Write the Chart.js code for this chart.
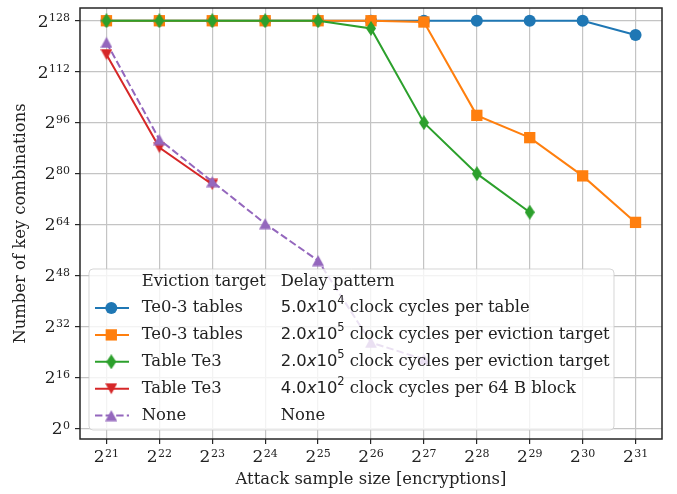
<!DOCTYPE html>
<html>
<head>
<meta charset="utf-8">
<script src="https://cdn.jsdelivr.net/npm/chart.js@4.4.0/dist/chart.umd.min.js"></script>
<style>
  html, body { margin: 0; padding: 0; background: #fff; }
  #wrap { width: 677px; height: 494px; }
</style>
</head>
<body>
<div id="wrap"><canvas id="chart" width="677" height="494"></canvas></div>
<script>
// x: attack sample size as powers of two, y: log2 of remaining key combinations
const sampleExp = [21, 22, 23, 24, 25, 26, 27, 28, 29, 30, 31];
const keyExpTicks = [0, 16, 32, 48, 64, 80, 96, 112, 128];

const te03PerTable = [128, 128, 128, 128, 128, 128, 128, 128, 128, 128, 123.5];
const te03PerTarget = [128, 128, 128, 128, 128, 128, 127.6, 98.3, 91.3, 79.3, 64.7];
const te3PerTarget = [128, 128, 128, 128, 128, 125.6, 96, 80, 67.9];
const te3PerBlock = [117.4, 88.2, 76.6];
const noDelay = [121.2, 90.7, 77.5, 64.3, 52.7, 27, 21.7];

const evictionTargets = ['Te0-3 tables', 'Te0-3 tables', 'Table Te3', 'Table Te3', 'None'];
const delayPatterns = [
    '5.0x10^4 clock cycles per table',
    '2.0x10^5 clock cycles per eviction target',
    '2.0x10^5 clock cycles per eviction target',
    '4.0x10^2 clock cycles per 64 B block',
    'None'
];
const colors = ['#1f77b4', '#ff7f0e', '#2ca02c', '#d62728', '#9467bd'];

const TEXT = '#222';
const SERIF = '"DejaVu Serif"';
const SANS = '"DejaVu Sans"';

// matplotlib-like markers as small canvases
function marker(color, w, h, pts) {
    const c = document.createElement('canvas');
    c.width = w; c.height = h;
    const g = c.getContext('2d');
    g.fillStyle = color;
    g.beginPath();
    pts.forEach((p, i) => i ? g.lineTo(p[0], p[1]) : g.moveTo(p[0], p[1]));
    g.closePath();
    g.fill();
    return c;
}
const thinDiamond = marker(colors[2], 10, 15, [[5, 0], [10, 7.5], [5, 15], [0, 7.5]]);
const triDown = marker(colors[3], 12, 12, [[0, 0.5], [12, 0.5], [6, 11.5]]);
const triUp = marker(colors[4], 12, 12, [[6, 0.5], [12, 11.5], [0, 11.5]]);

const toXY = ys => ys.map((y, i) => ({ x: sampleExp[i], y: y }));

const series = [
    { data: te03PerTable, style: 'circle', radius: 6 },
    { data: te03PerTarget, style: 'rect', radius: 8 },
    { data: te3PerTarget, style: thinDiamond, radius: 7 },
    { data: te3PerBlock, style: triDown, radius: 6 },
    { data: noDelay, style: triUp, radius: 6, dash: [7.4, 3.2] }
];

const datasets = series.map((s, i) => ({
    label: evictionTargets[i],
    data: toXY(s.data),
    borderColor: colors[i],
    backgroundColor: colors[i],
    borderWidth: 2,
    borderDash: s.dash || [],
    pointStyle: s.style,
    pointRadius: s.radius,
    pointBorderWidth: 0,
    pointBackgroundColor: colors[i],
    order: series.length - i,
    tension: 0
}));

// "2" with a raised exponent, right/center aligned at x, baseline at y
function drawPow(ctx, exp, x, y, align) {
    ctx.textBaseline = 'alphabetic';
    ctx.textAlign = 'left';
    ctx.font = '17px ' + SERIF;
    const wb = ctx.measureText('2').width;
    ctx.font = '11px ' + SERIF;
    const we = ctx.measureText(String(exp)).width;
    const x0 = align === 'right' ? x - wb - we - 0.5 : x - (wb + we + 0.5) / 2;
    ctx.font = '17px ' + SERIF;
    ctx.fillText('2', x0, y);
    ctx.font = '11px ' + SERIF;
    ctx.fillText(String(exp), x0 + wb + 0.5, y - 5.2);
}

function drawDelay(ctx, text, x, y) {
    const m = text.match(/^([\d.]+)x10\^(\d+)(.*)$/);
    ctx.textBaseline = 'middle';
    ctx.textAlign = 'left';
    if (!m) {
        ctx.font = '16.4px ' + SERIF;
        ctx.fillText(text, x, y);
        return;
    }
    const parts = [
        [m[1], '16.4px ' + SANS, 0],
        ['x', 'oblique 16.4px ' + SANS, 0],
        ['10', '16.4px ' + SANS, 0],
        [m[2], '11.5px ' + SANS, -6.5],
        [m[3], '16.4px ' + SERIF, 0]
    ];
    parts.forEach(p => {
        ctx.font = p[1];
        ctx.fillText(p[0], x, y + p[2]);
        x += ctx.measureText(p[0]).width;
    });
}

const tickLabels = {
    id: 'tickLabels',
    afterDraw(chart) {
        const { ctx, chartArea: a, scales } = chart;
        ctx.save();
        ctx.fillStyle = TEXT;
        sampleExp.forEach(v => drawPow(ctx, v, scales.x.getPixelForValue(v), a.bottom + 22.7, 'center'));
        keyExpTicks.forEach(v => drawPow(ctx, v, a.left - 10, scales.y.getPixelForValue(v) + 5.8, 'right'));
        ctx.restore();
    }
};

const tableLegend = {
    id: 'tableLegend',
    afterDatasetsDraw(chart) {
        const { ctx, chartArea: a } = chart;
        ctx.save();
        // axes frame
        ctx.strokeStyle = '#262626';
        ctx.lineWidth = 1.5;
        ctx.strokeRect(a.left, a.top, a.right - a.left, a.bottom - a.top);

        // legend box
        const bx = a.left + 9, by = a.bottom - 170, bw = 525, bh = 161;
        ctx.beginPath();
        ctx.roundRect(bx, by, bw, bh, 4);
        ctx.fillStyle = 'rgba(255,255,255,0.8)';
        ctx.fill();
        ctx.strokeStyle = 'rgba(204,204,204,0.8)';
        ctx.lineWidth = 1;
        ctx.stroke();

        ctx.fillStyle = TEXT;
        ctx.font = '16.4px ' + SERIF;
        ctx.textBaseline = 'middle';
        ctx.fillText('Eviction target', bx + 52.7, by + 13);
        ctx.fillText('Delay pattern', bx + 191.7, by + 13);

        chart.data.datasets.forEach((ds, i) => {
            const y = by + 39 + i * 26.9;
            ctx.save();
            ctx.strokeStyle = ds.borderColor;
            ctx.lineWidth = 2;
            ctx.setLineDash(ds.borderDash);
            ctx.beginPath();
            ctx.moveTo(bx + 6, y);
            ctx.lineTo(bx + 40, y);
            ctx.stroke();
            ctx.setLineDash([]);
            ctx.fillStyle = ds.pointBackgroundColor;
            Chart.helpers.drawPoint(ctx, { pointStyle: ds.pointStyle, radius: ds.pointRadius, rotation: 0, borderWidth: 0 }, bx + 22.3, y);
            ctx.restore();

            ctx.fillStyle = TEXT;
            ctx.font = '16.4px ' + SERIF;
            ctx.textBaseline = 'middle';
            ctx.fillText(evictionTargets[i], bx + 52.7, y);
            drawDelay(ctx, delayPatterns[i], bx + 191.7, y);
        });
        ctx.restore();
    }
};

const titleFont = { family: 'DejaVu Serif', size: 16.4 };
const gridOpts = { color: '#c4c4c4', lineWidth: 1.2, tickLength: 5, tickColor: '#262626', tickWidth: 1.2 };

new Chart(document.getElementById('chart'), {
    type: 'line',
    data: { datasets: datasets },
    options: {
        responsive: false,
        animation: false,
        devicePixelRatio: 1,
        layout: { padding: { top: 6, right: 15, left: 0, bottom: 0 } },
        plugins: {
            legend: { display: false },
            tooltip: { enabled: false }
        },
        scales: {
            x: {
                type: 'linear',
                min: 20.5,
                max: 31.5,
                afterBuildTicks: s => { s.ticks = sampleExp.map(v => ({ value: v })); },
                afterFit: s => { s.height = 55; s.paddingLeft = 0; s.paddingRight = 0; },
                ticks: { display: false },
                grid: gridOpts,
                border: { display: false },
                title: {
                    display: true,
                    text: 'Attack sample size [encryptions]',
                    font: titleFont,
                    color: TEXT,
                    padding: { top: 0, bottom: 4 }
                }
            },
            y: {
                type: 'linear',
                min: -3.3,
                max: 132,
                afterBuildTicks: s => { s.ticks = keyExpTicks.map(v => ({ value: v })); },
                afterFit: s => { s.width = 80; s.paddingTop = 0; s.paddingBottom = 0; },
                ticks: { display: false },
                grid: gridOpts,
                border: { display: false },
                title: {
                    display: true,
                    text: 'Number of key combinations',
                    font: titleFont,
                    color: TEXT,
                    padding: { top: 11, bottom: 0 }
                }
            }
        }
    },
    plugins: [tableLegend, tickLabels]
});
</script>
</body>
</html>
